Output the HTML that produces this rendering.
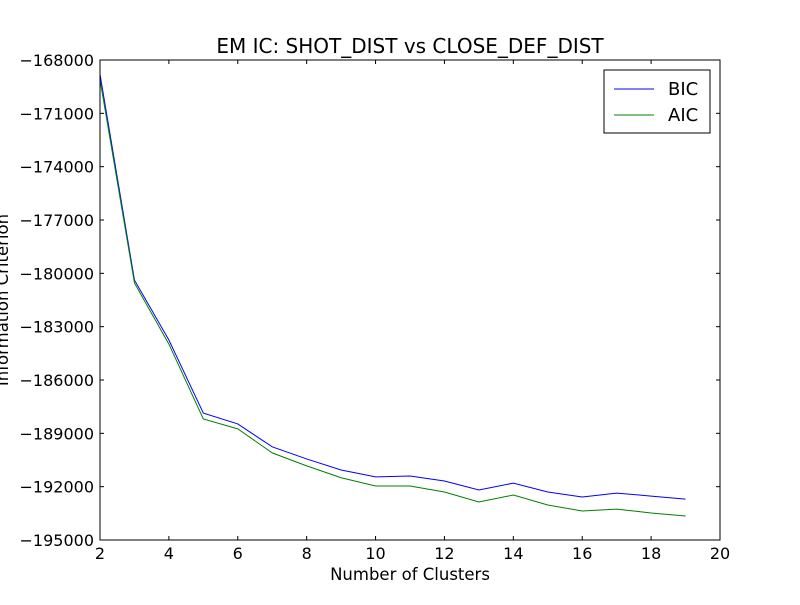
<!DOCTYPE html>
<html><head><meta charset="utf-8"><style>
html,body{margin:0;padding:0;background:#fff;}
svg text{font-family:"DejaVu Sans","Liberation Sans",sans-serif;}
</style></head><body>
<svg id="chart" width="800" height="600" xmlns="http://www.w3.org/2000/svg">
<rect width="800" height="600" fill="#fff"/>
<g id="plot"></g>
</svg>
<script>
const clusters=[2,3,4,5,6,7,8,9,10,11,12,13,14,15,16,17,18,19];
const bicValues=[-168800,-180380,-183750,-187860,-188470,-189760,-190440,-191060,-191450,-191400,-191680,-192190,-191800,-192300,-192580,-192360,-192530,-192700];
const aicValues=[-169100,-180540,-183980,-188190,-188750,-190100,-190830,-191500,-191960,-191960,-192300,-192860,-192470,-193030,-193370,-193260,-193480,-193650];
const xTicks=[2,4,6,8,10,12,14,16,18,20];
const yTicks=[-168000,-171000,-174000,-177000,-180000,-183000,-186000,-189000,-192000,-195000];
const L=100,R=720,T=60,B=540,xmin=2,xmax=20,ymin=-195000,ymax=-168000;
const sx=v=>L+(v-xmin)/(xmax-xmin)*(R-L);
const sy=v=>B-(v-ymin)/(ymax-ymin)*(B-T);
const NS="http://www.w3.org/2000/svg";
const g=document.getElementById('plot');
function mk(tag,attrs,txt){const e=document.createElementNS(NS,tag);for(const k in attrs)e.setAttribute(k,attrs[k]);if(txt!==undefined)e.textContent=txt;g.appendChild(e);return e;}
function line(arr,color,name){
  const p=mk('polyline',{points:arr.map((v,i)=>sx(clusters[i])+','+sy(v)).join(' '),fill:'none',stroke:color,'stroke-width':1});
  
  
}
line(bicValues,'#0000ff','bic-line');
line(aicValues,'#008000','aic-line');
const frame=mk('rect',{x:L,y:T,width:R-L,height:B-T,fill:'none',stroke:'#000','stroke-width':1});


xTicks.forEach(v=>{
  const x=sx(v);
  mk('line',{x1:x,y1:B,x2:x,y2:B-4,stroke:'#000'});
  mk('line',{x1:x,y1:T,x2:x,y2:T+4,stroke:'#000'});
  const t=mk('text',{x:x,y:B+19,'text-anchor':'middle','font-size':16},String(v));
  
  
});
yTicks.forEach(v=>{
  const y=sy(v);
  mk('line',{x1:L,y1:y,x2:L+4,y2:y,stroke:'#000'});
  mk('line',{x1:R,y1:y,x2:R-4,y2:y,stroke:'#000'});
  const t=mk('text',{x:L-6,y:y+6,'text-anchor':'end','font-size':16},'\u2212'+Math.abs(v));
  
  
});
const title=mk('text',{x:410,y:53,'text-anchor':'middle','font-size':20},'EM IC: SHOT_DIST vs CLOSE_DEF_DIST');


const xl=mk('text',{x:410,y:580,'text-anchor':'middle','font-size':16.5},'Number of Clusters');


const yl=mk('text',{x:0,y:0,'text-anchor':'middle','font-size':16.5,transform:'translate(8,300) rotate(-90)'},'Information Criterion');


const lg=mk('rect',{x:604,y:70,width:106,height:63,fill:'#fff',stroke:'#000'});


[['BIC','#0000ff',89],['AIC','#008000',115]].forEach(([n,c,y])=>{
  mk('line',{x1:614,y1:y,x2:654,y2:y,stroke:c});
  const t=mk('text',{x:668,y:y+6,'font-size':18},n);
  
  
});
</script>
</body></html>
